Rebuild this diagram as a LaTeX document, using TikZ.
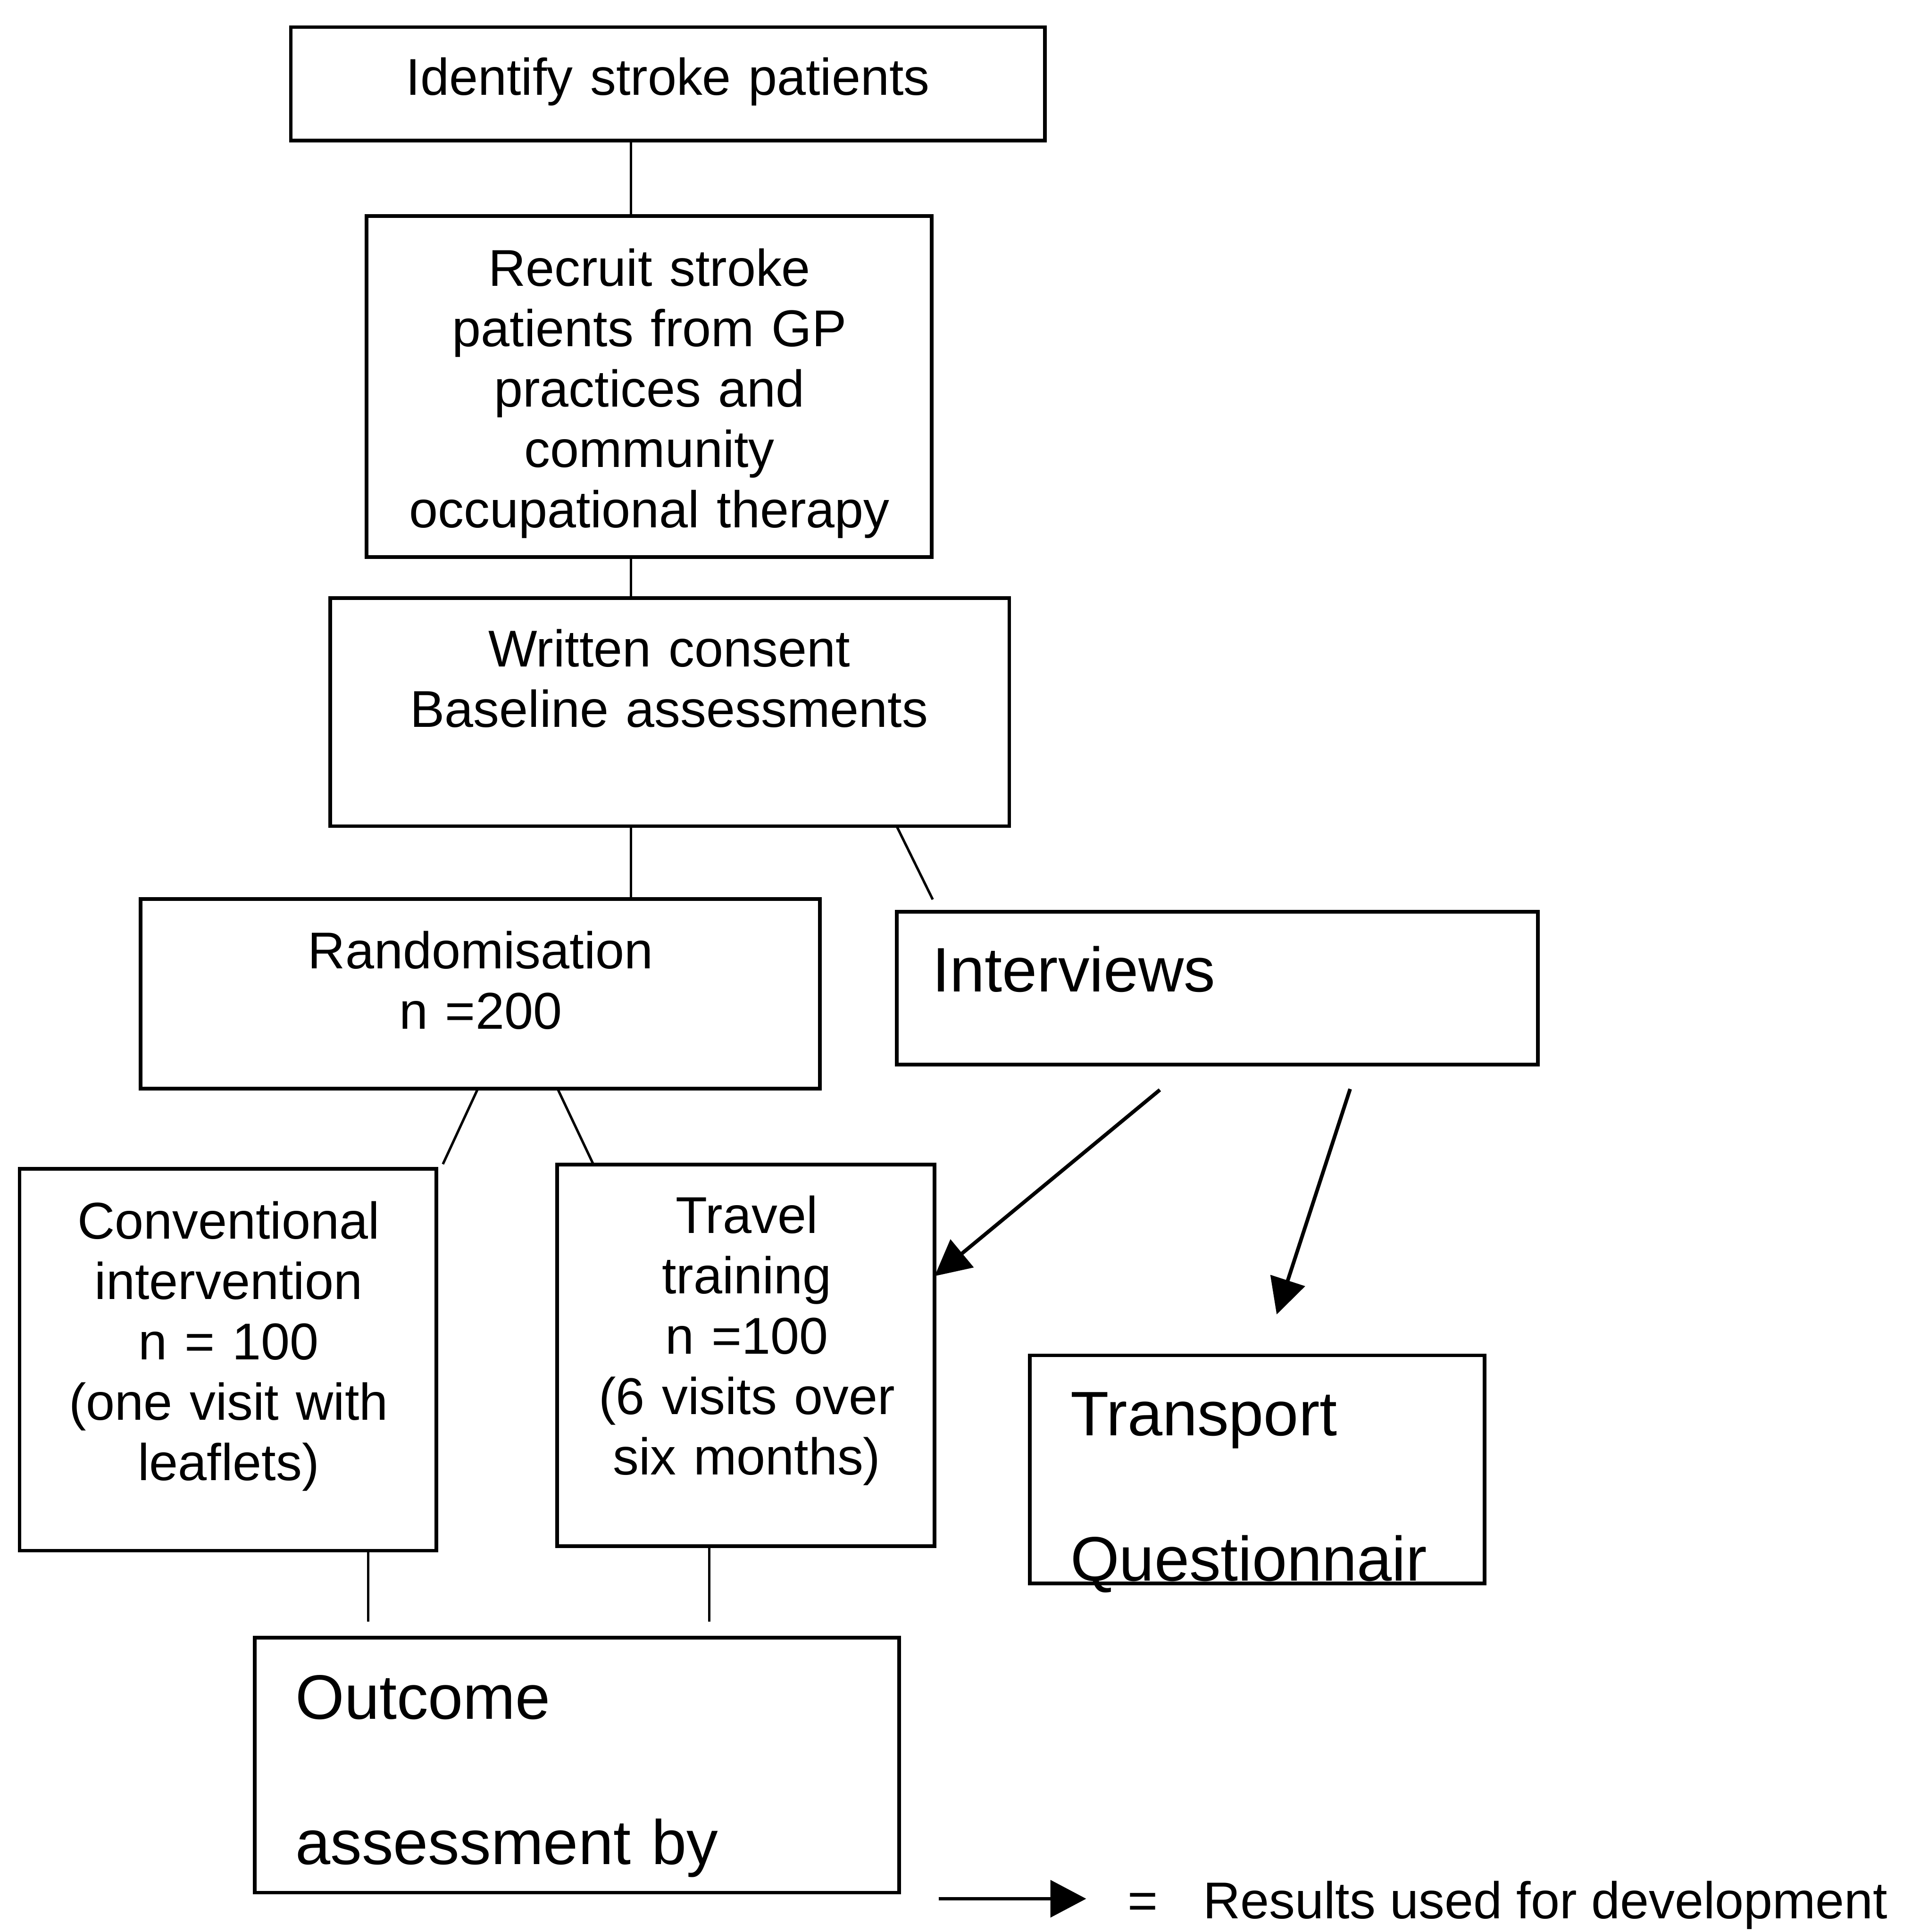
\documentclass[tikz,border=0pt]{standalone}
\usepackage{fontspec}
\setmainfont{Liberation Sans}
\usetikzlibrary{arrows.meta,calc}
\begin{document}
\begin{tikzpicture}[x=1pt,y=-1pt,
  box/.style={draw, line width=3pt, inner sep=0pt, outer sep=0pt, anchor=north west},
  txt/.style={font=\fontsize{42}{49}\selectfont, inner sep=0pt, align=center, text width=600pt, anchor=base},
  bigtxt/.style={font=\fontsize{51}{118}\selectfont, inner sep=0pt, align=left, text width=500pt, anchor=base west},
  legtxt/.style={font=\fontsize{42}{49}\selectfont, inner sep=0pt, anchor=base west},
  conn/.style={line width=2pt},
  arr/.style={line width=3pt, -{Triangle[length=29pt,width=29pt]}}]
\useasboundingbox (0,0) rectangle (1558,1568);

% boxes
\node[box, minimum width=612pt, minimum height=92pt] (b1) at (236,22) {};
\node[box, minimum width=458.4pt, minimum height=276.7pt] (b2) at (297.6,175.3) {};
\node[box, minimum width=551.1pt, minimum height=185.1pt] (b3) at (267.9,485.4) {};
\node[box, minimum width=551.4pt, minimum height=153.9pt] (b4) at (114,729.6) {};
\node[box, minimum width=520.3pt, minimum height=124pt] (b5) at (727.7,740) {};
\node[box, minimum width=338.1pt, minimum height=309.9pt] (b6) at (15.9,948.6) {};
\node[box, minimum width=306.4pt, minimum height=309.8pt] (b7) at (452,945.2) {};
\node[box, minimum width=369.1pt, minimum height=185pt] (b8) at (835.6,1100) {};
\node[box, minimum width=522.8pt, minimum height=207pt] (b9) at (206.8,1329) {};

% texts
\node[txt] (t1) at (542,77) {Identify stroke patients};
\node[txt] (t2) at (527,232) {Recruit stroke\\patients from GP\\practices and\\community\\occupational therapy};
\node[txt] (t3) at (543,541) {Written consent\\Baseline assessments};
\node[txt] (t4) at (390,786) {Randomisation\\n =200};
\node[bigtxt] (t5) at (756.5,805) {Interviews};
\node[txt] (t6) at (185.5,1005.5) {Conventional\\intervention\\n = 100\\(one visit with\\leaflets)};
\node[txt] (t7) at (606,1001) {Travel\\training\\n =100\\(6 visits over\\six months)};
\node[bigtxt] (t8) at (868.5,1165) {Transport\\Questionnair};
\node[bigtxt] (t9) at (239.6,1395) {Outcome\\assessment by};

% connector positions
\coordinate (x512) at (512,0);
\coordinate (xwi) at (727.6,0);
\coordinate (ewi) at (756.9,730);
\coordinate (xrc) at (387.8,0);
\coordinate (erc) at (359.4,944.8);
\coordinate (xrt) at (452.4,0);
\coordinate (xrt2) at (481.6,0);
\coordinate (xco) at (298.8,0);
\coordinate (eco) at (298.8,1316);
\coordinate (xto) at (575.5,0);
\coordinate (eto) at (575.5,1316);
\coordinate (sa1) at (941.2,884.5);
\coordinate (sa2) at (1095.6,883.8);
\coordinate (ea2) at (1036,1066.8);
\coordinate (ls) at (761.6,1541);
\coordinate (le) at (881.4,1541);

\draw[conn] (b1.south -| x512) -- (b2.north -| x512);
\draw[conn] (b2.south -| x512) -- (b3.north -| x512);
\draw[conn] (b3.south -| x512) -- (b4.north -| x512);
\draw[conn] (b3.south -| xwi) -- (ewi);
\draw[conn] (b4.south -| xrc) -- (erc);
\draw[conn] (b4.south -| xrt) -- (b7.north -| xrt2);
\draw[conn] (b6.south -| xco) -- (eco);
\draw[conn] (b7.south -| xto) -- (eto);

\draw[arr] (sa1) -- ($(b7.north east)!0.292!(b7.south east)$);
\draw[arr] (sa2) -- (ea2);

% legend
\draw[line width=2.5pt, -{Triangle[length=29pt,width=30pt]}] (ls) -- (le);
\node[legtxt, anchor=base] (eq) at (927.5,1557) {=};
\node[legtxt] (leg) at (976,1557) {Results used for development};
\end{tikzpicture}
\end{document}
